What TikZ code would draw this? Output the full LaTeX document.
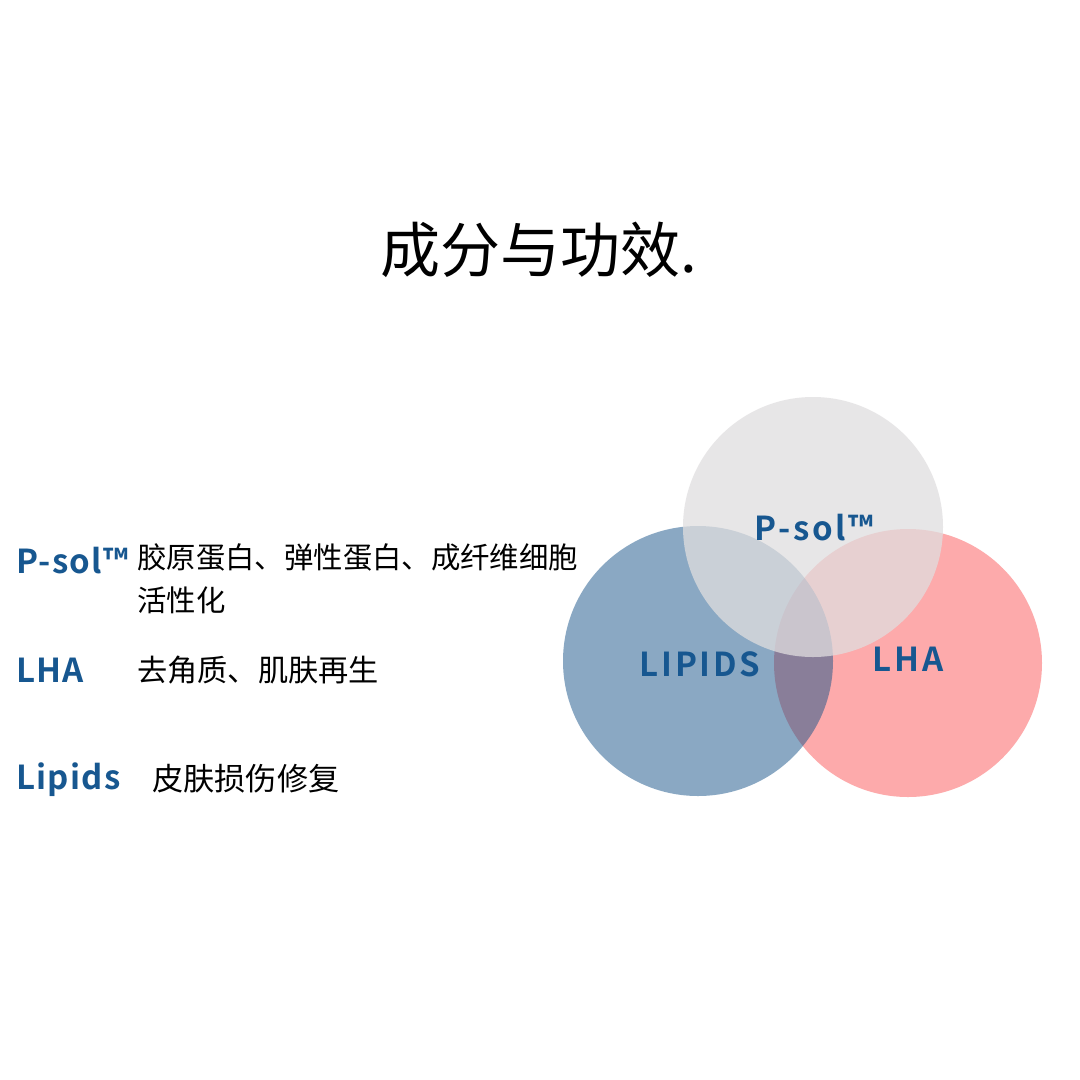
\documentclass[tikz,border=0pt]{standalone}
\usepackage{fontspec}
\setmainfont{Noto Sans CJK SC}
\newfontfamily\labfont{Noto Sans CJK SC Bold}[LetterSpace=8]
\newfontfamily\lablfont{Noto Sans CJK SC Bold}[LetterSpace=4]
\definecolor{labblue}{RGB}{23,87,144}
\definecolor{circblue}{RGB}{22,83,137}
\definecolor{circpink}{RGB}{253,170,171}
\definecolor{circgray}{RGB}{224,222,223}
\begin{document}
\begin{tikzpicture}[x=1pt,y=-1pt,
  titlestyle/.style={inner sep=0pt,anchor=base,font=\fontsize{60}{66}\selectfont,text=black},
  lab/.style={inner sep=0pt,font=\labfont\fontsize{33}{40}\selectfont,text=labblue},
  labl/.style={inner sep=0pt,anchor=base west,font=\lablfont\fontsize{33}{40}\selectfont,text=labblue},
  body/.style={inner sep=0pt,anchor=base west,text=black}]
\useasboundingbox (0,0) rectangle (1080,1080);
\fill[white] (0,0) rectangle (1080,1080);
% circles
\fill[circpink] (908,663) circle (134);
\fill[circblue,opacity=0.5] (698,661) circle (135);
\fill[circgray,opacity=0.75] (813,527) circle (130);
% title
\node[titlestyle] (title) at (539,272) {成分与功效.};
% circle labels
\node[lab,anchor=base] (cpsol) at (814,540) {P-sol™};
\node[lab,anchor=base] (clipids) at (700,676) {LIPIDS};
\node[lab,anchor=base] (clha) at (908,671) {LHA};
% left list
\node[labl] (lpsol) at (16,573) {P-sol™};
\node[body,font=\fontsize{29.4}{34}\selectfont] (dpsol1) at (137,568) {胶原蛋白、弹性蛋白、成纤维细胞};
\node[body,font=\fontsize{29.4}{34}\selectfont] (dpsol2) at (137,611) {活性化};
\node[labl] (llha) at (16,682) {LHA};
\node[body,font=\fontsize{30.2}{34}\selectfont] (dlha) at (137,681) {去角质、肌肤再生};
\node[labl] (llip) at (16,789) {Lipids};
\node[body,font=\fontsize{31.2}{34}\selectfont] (dlip) at (152,790) {皮肤损伤修复};
\end{tikzpicture}
\end{document}
